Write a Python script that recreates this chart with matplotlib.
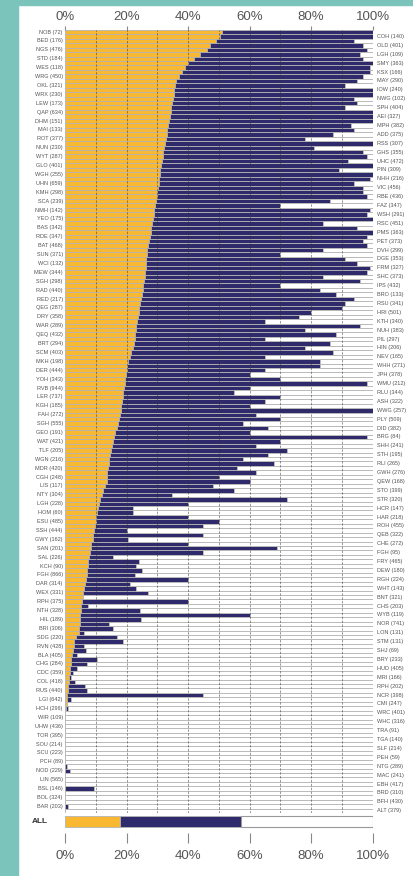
import numpy as np
import matplotlib.pyplot as plt
from matplotlib.patches import Rectangle

plt.rcParams['font.family'] = ['Liberation Sans', 'DejaVu Sans']

# labels: left column goes on bars 0,2,4..., right column on bars 1,3,5...
left_names = ['NOB', 'BED', 'NGS', 'STD', 'WES', 'WRG', 'OKL', 'WRX', 'LEW', 'QAP',
              'DHM', 'MAI', 'ROT', 'NUN', 'WYT', 'GLO', 'WGH', 'UHN', 'KMH', 'SCA',
              'NMH', 'YEO', 'BAS', 'RDE', 'BAT', 'SUN', 'WCI', 'MEW', 'SGH', 'RAD',
              'RED', 'QEG', 'DRY', 'WAR', 'QEQ', 'BRT', 'SCM', 'MKH', 'DER', 'YOH',
              'RVB', 'LER', 'KGH', 'FAH', 'SGH', 'GEO', 'WAT', 'TLF', 'WGN', 'MDR',
              'CGH', 'LIS', 'NTY', 'LGH', 'HOM', 'ESU', 'SSH', 'GWY', 'SAN', 'SAL',
              'KCH', 'FGH', 'DAR', 'WEX', 'RPH', 'NTH', 'HIL', 'BRI', 'SDG', 'RVN',
              'BLA', 'CHG', 'CDC', 'COL', 'RUS', 'LGI', 'HCH', 'WIR', 'UHW', 'TOR',
              'SOU', 'SCU', 'PCH', 'NOD', 'LIN', 'BSL', 'BOL', 'BAR']
left_n = [72, 176, 476, 184, 118, 450, 321, 230, 173, 634,
          151, 133, 377, 230, 287, 401, 255, 659, 298, 239,
          142, 175, 342, 347, 468, 371, 132, 344, 298, 440,
          217, 287, 358, 289, 432, 294, 403, 198, 444, 343,
          944, 737, 185, 272, 555, 191, 421, 205, 216, 420,
          248, 117, 304, 228, 60, 485, 444, 162, 201, 226,
          90, 866, 314, 331, 375, 328, 189, 306, 220, 428,
          405, 284, 359, 418, 440, 642, 296, 109, 436, 395,
          214, 223, 89, 229, 565, 146, 324, 203]
right_names = ['COH', 'OLD', 'LGH', 'SMY', 'KSX', 'MAY', 'IOW', 'NWG', 'SPH', 'AEI',
               'MPH', 'ADD', 'RSS', 'GHS', 'UHC', 'PIN', 'NHH', 'VIC', 'RBE', 'FAZ',
               'WSH', 'RSC', 'PMS', 'PET', 'DVH', 'DGE', 'FRM', 'SHC', 'IPS', 'BRO',
               'RSU', 'HRI', 'KTH', 'NUH', 'PIL', 'HIN', 'NEV', 'WHH', 'JPH', 'WMU',
               'RLU', 'ASH', 'WWG', 'PLY', 'DID', 'BRG', 'SHH', 'STH', 'RLI', 'GWH',
               'QEW', 'STO', 'STR', 'HCR', 'HAR', 'ROH', 'QEB', 'CHE', 'FGH', 'FRY',
               'DEW', 'RGH', 'WHT', 'BNT', 'CHS', 'WYB', 'NOR', 'LON', 'STM', 'SHJ',
               'BRY', 'HUD', 'MRI', 'RPH', 'NCR', 'CMI', 'WRC', 'WHC', 'TRA', 'TGA',
               'SLF', 'PEH', 'NTG', 'MAC', 'EBH', 'BRD', 'BFH', 'ALT']
right_n = [140, 401, 109, 363, 166, 290, 240, 102, 404, 327,
           382, 375, 307, 355, 472, 309, 216, 456, 436, 347,
           291, 451, 363, 373, 299, 353, 327, 373, 432, 133,
           341, 501, 340, 383, 297, 206, 165, 271, 378, 212,
           344, 322, 257, 509, 382, 84, 241, 195, 265, 276,
           168, 399, 320, 147, 218, 455, 322, 272, 95, 465,
           180, 224, 143, 321, 203, 119, 741, 131, 131, 69,
           233, 405, 166, 202, 398, 247, 401, 316, 91, 140,
           214, 59, 289, 241, 417, 310, 430, 379]

# % in the orange group, per bar (top to bottom)
pct_orange = [51, 50.5, 49, 47, 46, 44, 42, 40, 39, 38,
              37, 36, 35.8, 35.5, 35.3, 35, 34.8, 34.5, 34.3, 34,
              33.8, 33.5, 33.3, 33, 32.8, 32.5, 32.3, 32, 31.8, 31.5,
              31.3, 31, 30.8, 30.6, 30.4, 30.2, 30, 29.8, 29.6, 29.3,
              29, 28.8, 28.5, 28.3, 28, 27.8, 27.5, 27.3, 27, 26.8,
              26.6, 26.4, 26.3, 26.2, 26.1, 26, 25.8, 25.5, 25.2, 25,
              24.8, 24.5, 24.2, 24, 23.7, 23.4, 23.2, 23, 22.8, 22.6,
              22.4, 22.2, 21.5, 21, 20.5, 20.2, 20, 19.8, 19.6, 19.4,
              19.2, 19, 18.8, 18.5, 18.3, 18.1, 17.8, 17.5, 17.2, 16.8,
              16.4, 16, 15.6, 15.2, 14.9, 14.6, 14.4, 14.2, 14, 13.8,
              13.6, 13.5, 13, 12.5, 12, 11.5, 11, 10.8, 10.5, 10.2,
              10, 9.7, 9.5, 9.2, 9, 8.6, 8.3, 8.1, 7.9, 7.6,
              7.4, 7.2, 7, 6.8, 6.5, 6.2, 6, 5.7, 5.4, 5.3,
              5.1, 5, 4.9, 4.8, 4.6, 4.5, 3.5, 3, 2.8, 2.5,
              2.2, 2, 1.9, 1.7, 1.5, 1.4, 1.3, 1.1, 0.9, 0.8,
              0.6, 0.5, 0.4, 0.3, 0.2, 0, 0, 0, 0, 0,
              0, 0, 0, 0, 0, 0, 0, 0, 0, 0,
              0, 0, 0, 0, 0, 0]
# % in orange or navy group (cumulative), per bar
pct_upto_navy = [100, 100, 94, 97, 98, 96, 97, 100, 99, 99,
                 97, 95, 91, 100, 100, 94, 95, 91, 100, 100,
                 100, 93, 94, 87, 78, 100, 81, 97, 98, 92,
                 100, 89, 100, 99, 94, 97, 97, 98, 86, 70,
                 99, 98, 100, 84, 95, 100, 98, 97, 98, 84,
                 70, 91, 95, 99, 98, 84, 96, 70, 83, 88,
                 94, 91, 90, 80, 76, 65, 96, 78, 88, 65,
                 86, 78, 87, 65, 83, 83, 65, 60, 70, 98,
                 60, 55, 70, 65, 60, 100, 62, 70, 58, 66,
                 60, 98, 70, 62, 72, 66, 58, 68, 56, 62,
                 50, 60, 48, 55, 34.7, 72, 40, 22, 22, 40,
                 50, 45, 20, 45, 20.5, 40, 69, 45, 15.6, 24,
                 23, 25, 22.8, 40, 21, 23, 27, 5.9, 40, 7.5,
                 24.4, 60, 24.7, 14.3, 15.6, 6.2, 16.8, 18.9, 6.2, 6.7,
                 3.8, 10.3, 7, 3.8, 2.6, 2, 3.2, 6.5, 7.2, 45,
                 2, 0.5, 0.9, 0, 0, 0, 0, 0, 0, 0,
                 0, 0, 0, 0, 0, 0.5, 1.6, 0, 0, 0,
                 9.5, 0, 0, 0, 0.9, 0]

all_orange = 18.0
all_upto_navy = 57.3

ORANGE = '#f9b832'
NAVY = '#2f2a6b'
EDGE = '#b4b4b4'
TEAL = '#7ac4bb'
TXT = '#555555'

W, H = 414, 876


def box(x0, y0, x1, y1):
    # pixel box -> figure fraction
    return [x0 / W, 1 - y1 / H, (x1 - x0) / W, (y1 - y0) / H]


fig = plt.figure(figsize=(W / 100, H / 100), dpi=100)
fig.add_artist(Rectangle((0, 0), 18 / W, 1, transform=fig.transFigure,
                         color=TEAL, zorder=0))
fig.add_artist(Rectangle((0, 1 - 5 / H), 1, 5 / H, transform=fig.transFigure,
                         color=TEAL, zorder=0))

orange = np.array(pct_orange, dtype=float)
upto = np.array(pct_upto_navy, dtype=float)
n = len(orange)
y = np.arange(n)

ax = fig.add_axes(box(65, 29.8, 372.7, 813))
ax.barh(y, orange, height=1, color=ORANGE, edgecolor=EDGE, lw=0.6)
ax.barh(y, upto - orange, left=orange, height=1, color=NAVY, edgecolor=EDGE, lw=0.6)
ax.barh(y, 100 - upto, left=upto, height=1, color='white', edgecolor=EDGE, lw=0.6)
for v in range(10, 100, 10):
    ax.axvline(v, color='#333333', lw=0.7, ls=(0, (2.5, 1.5)), alpha=0.5, zorder=3)

ax.set_xlim(0, 100)
ax.set_ylim(n - 0.5, -0.5)
ax.xaxis.tick_top()
ax.set_xticks(range(0, 101, 20))
ax.set_xticklabels(['%d%%' % v for v in range(0, 101, 20)], fontsize=9.5, color=TXT)
ax.tick_params(axis='x', length=3, width=0.8, color='#888888', pad=2)
ax.set_yticks([])
for s in ax.spines.values():
    s.set_visible(False)

tr = ax.get_yaxis_transform()
for k in range(len(left_names)):
    ax.text(-0.007, 2 * k, '%s (%d)' % (left_names[k], left_n[k]), transform=tr,
            ha='right', va='center', fontsize=4, color=TXT)
for k in range(len(right_names)):
    ax.text(1.014, 2 * k + 1, '%s (%d)' % (right_names[k], right_n[k]), transform=tr,
            ha='left', va='center', fontsize=4, color=TXT)

# overall bar + bottom scale
ax2 = fig.add_axes(box(65, 814, 372.7, 843))
ax2.barh([0.26], [all_orange], height=0.38, color=ORANGE, edgecolor=EDGE, lw=0.6)
ax2.barh([0.26], [all_upto_navy - all_orange], left=all_orange, height=0.38,
         color=NAVY, edgecolor=EDGE, lw=0.6)
ax2.barh([0.26], [100 - all_upto_navy], left=all_upto_navy, height=0.38,
         color='white', edgecolor='#999999', lw=0.8)
ax2.set_xlim(0, 100)
ax2.set_ylim(1, 0)
ax2.set_xticks(range(0, 101, 20))
ax2.set_xticklabels(['%d%%' % v for v in range(0, 101, 20)], fontsize=9.5, color=TXT)
ax2.tick_params(axis='x', direction='in', length=7, width=0.8, color='#888888', pad=5)
ax2.set_yticks([])
for s in ax2.spines.values():
    s.set_visible(False)
ax2.text(40 / W, 1 - 821.5 / H, 'ALL', transform=fig.transFigure, ha='center',
         va='center', fontsize=6, fontweight='bold', color='#333333')

fig.savefig('out.png', dpi=100)
